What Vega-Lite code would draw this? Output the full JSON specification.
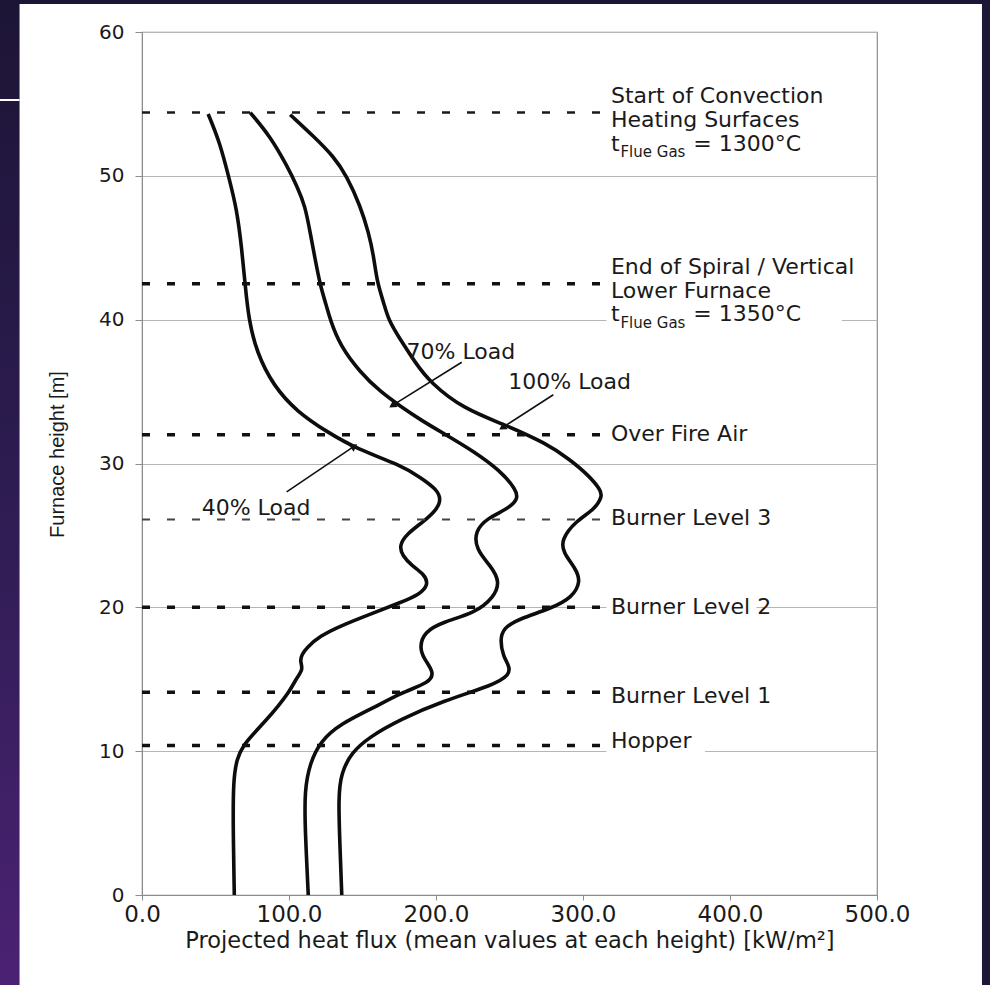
{
  "$schema": "https://vega.github.io/schema/vega-lite/v6.json",
  "width": 735,
  "height": 863,
  "autosize": {"type": "none"},
  "padding": {"left": 142, "top": 32, "right": 113, "bottom": 90},
  "background": "#ffffff",
  "config": {
    "view": {"stroke": "#8c8c8c", "strokeWidth": 1.2},
    "axis": {"domainColor": "#8c8c8c", "tickColor": "#8c8c8c", "labelColor": "#1a1a1a", "titleColor": "#1a1a1a", "labelFont": "DejaVu Sans", "titleFont": "Liberation Sans", "titleFontWeight": "normal"}
  },
  "datasets": {
    "curves": [
      {"load": "40% Load", "h": 54.3, "q": 45},
      {"load": "40% Load", "h": 52.3, "q": 53},
      {"load": "40% Load", "h": 50.0, "q": 58.8},
      {"load": "40% Load", "h": 47.7, "q": 64.5},
      {"load": "40% Load", "h": 44.9, "q": 67.9},
      {"load": "40% Load", "h": 42.4, "q": 70.2},
      {"load": "40% Load", "h": 40.0, "q": 72.6},
      {"load": "40% Load", "h": 37.7, "q": 78.1},
      {"load": "40% Load", "h": 35.4, "q": 89.4},
      {"load": "40% Load", "h": 33.6, "q": 105.4},
      {"load": "40% Load", "h": 32.2, "q": 125.8},
      {"load": "40% Load", "h": 31.0, "q": 146.3},
      {"load": "40% Load", "h": 29.9, "q": 175.7},
      {"load": "40% Load", "h": 29.0, "q": 190},
      {"load": "40% Load", "h": 28.2, "q": 200.5},
      {"load": "40% Load", "h": 27.5, "q": 203.5},
      {"load": "40% Load", "h": 26.8, "q": 200.5},
      {"load": "40% Load", "h": 26.0, "q": 192},
      {"load": "40% Load", "h": 25.1, "q": 180},
      {"load": "40% Load", "h": 24.3, "q": 175},
      {"load": "40% Load", "h": 23.6, "q": 177},
      {"load": "40% Load", "h": 22.9, "q": 183.5},
      {"load": "40% Load", "h": 22.3, "q": 192},
      {"load": "40% Load", "h": 21.6, "q": 195},
      {"load": "40% Load", "h": 20.9, "q": 189},
      {"load": "40% Load", "h": 20.3, "q": 175},
      {"load": "40% Load", "h": 19.6, "q": 157},
      {"load": "40% Load", "h": 18.7, "q": 134.7},
      {"load": "40% Load", "h": 18.0, "q": 121},
      {"load": "40% Load", "h": 17.2, "q": 112},
      {"load": "40% Load", "h": 16.7, "q": 108.6},
      {"load": "40% Load", "h": 16.25, "q": 107.5},
      {"load": "40% Load", "h": 15.7, "q": 109.7},
      {"load": "40% Load", "h": 15.1, "q": 105.2},
      {"load": "40% Load", "h": 14.2, "q": 100.7},
      {"load": "40% Load", "h": 13.0, "q": 91.6},
      {"load": "40% Load", "h": 12.2, "q": 84.8},
      {"load": "40% Load", "h": 11.2, "q": 75.7},
      {"load": "40% Load", "h": 10.4, "q": 68.9},
      {"load": "40% Load", "h": 9.5, "q": 64.5},
      {"load": "40% Load", "h": 7.9, "q": 62},
      {"load": "40% Load", "h": 4.5, "q": 62},
      {"load": "40% Load", "h": 0, "q": 62.8},
      {"load": "70% Load", "h": 54.4, "q": 73.6},
      {"load": "70% Load", "h": 52.75, "q": 87.2},
      {"load": "70% Load", "h": 50.7, "q": 98.6},
      {"load": "70% Load", "h": 49.3, "q": 105.4},
      {"load": "70% Load", "h": 47.9, "q": 111},
      {"load": "70% Load", "h": 46.05, "q": 114.4},
      {"load": "70% Load", "h": 44.2, "q": 117.8},
      {"load": "70% Load", "h": 42.35, "q": 121.3},
      {"load": "70% Load", "h": 40.96, "q": 125.5},
      {"load": "70% Load", "h": 40.0, "q": 128},
      {"load": "70% Load", "h": 38.2, "q": 134.7},
      {"load": "70% Load", "h": 36.35, "q": 148.3},
      {"load": "70% Load", "h": 35.0, "q": 162},
      {"load": "70% Load", "h": 34.0, "q": 175.5},
      {"load": "70% Load", "h": 33.0, "q": 190},
      {"load": "70% Load", "h": 32.1, "q": 205},
      {"load": "70% Load", "h": 30.8, "q": 226.4},
      {"load": "70% Load", "h": 29.5, "q": 243.6},
      {"load": "70% Load", "h": 28.2, "q": 254.5},
      {"load": "70% Load", "h": 27.5, "q": 256},
      {"load": "70% Load", "h": 26.8, "q": 248},
      {"load": "70% Load", "h": 26.2, "q": 235},
      {"load": "70% Load", "h": 25.3, "q": 226.4},
      {"load": "70% Load", "h": 24.0, "q": 227.3},
      {"load": "70% Load", "h": 22.9, "q": 237.1},
      {"load": "70% Load", "h": 21.8, "q": 243.6},
      {"load": "70% Load", "h": 20.7, "q": 239.4},
      {"load": "70% Load", "h": 19.6, "q": 226.4},
      {"load": "70% Load", "h": 19.0, "q": 205},
      {"load": "70% Load", "h": 18.3, "q": 192},
      {"load": "70% Load", "h": 17.2, "q": 188.7},
      {"load": "70% Load", "h": 16.4, "q": 192},
      {"load": "70% Load", "h": 15.5, "q": 198.5},
      {"load": "70% Load", "h": 14.8, "q": 196.4},
      {"load": "70% Load", "h": 14.05, "q": 176},
      {"load": "70% Load", "h": 13.0, "q": 157.3},
      {"load": "70% Load", "h": 11.9, "q": 135},
      {"load": "70% Load", "h": 10.7, "q": 121.5},
      {"load": "70% Load", "h": 9.2, "q": 114.3},
      {"load": "70% Load", "h": 7.24, "q": 110.5},
      {"load": "70% Load", "h": 4.47, "q": 111},
      {"load": "70% Load", "h": 0, "q": 113.1},
      {"load": "100% Load", "h": 54.25, "q": 100.8},
      {"load": "100% Load", "h": 52.75, "q": 116.7},
      {"load": "100% Load", "h": 51.36, "q": 130.3},
      {"load": "100% Load", "h": 49.97, "q": 139.4},
      {"load": "100% Load", "h": 47.9, "q": 148.5},
      {"load": "100% Load", "h": 46.05, "q": 154.2},
      {"load": "100% Load", "h": 44.43, "q": 157.6},
      {"load": "100% Load", "h": 42.6, "q": 159.9},
      {"load": "100% Load", "h": 41.2, "q": 164.4},
      {"load": "100% Load", "h": 40.0, "q": 167.5},
      {"load": "100% Load", "h": 38.65, "q": 175.5},
      {"load": "100% Load", "h": 37.0, "q": 186},
      {"load": "100% Load", "h": 35.65, "q": 195.9},
      {"load": "100% Load", "h": 33.8, "q": 218.6},
      {"load": "100% Load", "h": 32.65, "q": 248.1},
      {"load": "100% Load", "h": 31.38, "q": 275.3},
      {"load": "100% Load", "h": 30.3, "q": 290.7},
      {"load": "100% Load", "h": 29.2, "q": 303.6},
      {"load": "100% Load", "h": 28.15, "q": 312.2},
      {"load": "100% Load", "h": 27.7, "q": 313},
      {"load": "100% Load", "h": 26.8, "q": 307.9},
      {"load": "100% Load", "h": 26.0, "q": 295},
      {"load": "100% Load", "h": 24.7, "q": 285.2},
      {"load": "100% Load", "h": 23.8, "q": 286.5},
      {"load": "100% Load", "h": 22.7, "q": 295},
      {"load": "100% Load", "h": 21.8, "q": 298.5},
      {"load": "100% Load", "h": 20.7, "q": 292.9},
      {"load": "100% Load", "h": 19.9, "q": 277.9},
      {"load": "100% Load", "h": 19.2, "q": 256.4},
      {"load": "100% Load", "h": 18.55, "q": 245.7},
      {"load": "100% Load", "h": 17.7, "q": 243.6},
      {"load": "100% Load", "h": 16.6, "q": 245.7},
      {"load": "100% Load", "h": 15.9, "q": 250},
      {"load": "100% Load", "h": 15.3, "q": 250},
      {"load": "100% Load", "h": 14.6, "q": 239.3},
      {"load": "100% Load", "h": 13.5, "q": 205},
      {"load": "100% Load", "h": 12.2, "q": 175.5},
      {"load": "100% Load", "h": 10.94, "q": 154},
      {"load": "100% Load", "h": 9.9, "q": 142.6},
      {"load": "100% Load", "h": 8.5, "q": 135.5},
      {"load": "100% Load", "h": 6.78, "q": 133.5},
      {"load": "100% Load", "h": 3.31, "q": 134.7},
      {"load": "100% Load", "h": 0, "q": 135.9}
    ],
    "levels": [
      {"level": "Start of Convection Heating Surfaces", "h": 54.4},
      {"level": "End of Spiral / Vertical Lower Furnace", "h": 42.5},
      {"level": "Over Fire Air", "h": 32.0},
      {"level": "Burner Level 3", "h": 26.1},
      {"level": "Burner Level 2", "h": 20.0},
      {"level": "Burner Level 1", "h": 14.1},
      {"level": "Hopper", "h": 10.4}
    ],
    "texts": [
      {"text": "Start of Convection", "q": 319, "h": 55.55, "role": "main"},
      {"text": "Heating Surfaces", "q": 319, "h": 53.89, "role": "main"},
      {"text": "t", "q": 319, "h": 52.23, "role": "main"},
      {"text": "Flue Gas", "q": 325.5, "h": 51.65, "role": "sub"},
      {"text": "= 1300°C", "q": 375, "h": 52.23, "role": "main"},
      {"text": "End of Spiral / Vertical", "q": 319, "h": 43.64, "role": "main"},
      {"text": "Lower Furnace", "q": 319, "h": 41.98, "role": "main"},
      {"text": "t", "q": 319, "h": 40.37, "role": "main"},
      {"text": "Flue Gas", "q": 325.5, "h": 39.79, "role": "sub"},
      {"text": "= 1350°C", "q": 375, "h": 40.37, "role": "main"},
      {"text": "Over Fire Air", "q": 319, "h": 32.08, "role": "main"},
      {"text": "Burner Level 3", "q": 319, "h": 26.19, "role": "main"},
      {"text": "Burner Level 2", "q": 319, "h": 19.99, "role": "main"},
      {"text": "Burner Level 1", "q": 319, "h": 13.84, "role": "main"},
      {"text": "Hopper", "q": 319, "h": 10.7, "role": "main"},
      {"text": "70% Load", "q": 180, "h": 37.75, "role": "main"},
      {"text": "100% Load", "q": 249.2, "h": 35.65, "role": "main"},
      {"text": "40% Load", "q": 40.6, "h": 26.93, "role": "main"}
    ],
    "arrows": [
      {"load": "70% Load", "q": 217.5, "h": 37.04, "q2": 171, "h2": 34.08},
      {"load": "100% Load", "q": 279.8, "h": 34.78, "q2": 245.8, "h2": 32.54},
      {"load": "40% Load", "q": 98.4, "h": 28.03, "q2": 143.7, "h2": 31.15}
    ]
  },
  "layer": [
    {
      "data": {"name": "curves"},
      "mark": {"type": "line", "color": "#0d0d0d", "strokeWidth": 3.6, "interpolate": "basis"},
      "encoding": {
        "x": {"field": "q", "type": "quantitative", "scale": {"domain": [0, 500], "nice": false, "zero": false},
          "axis": {"title": "Projected heat flux (mean values at each height) [kW/m²]", "values": [0, 100, 200, 300, 400, 500], "format": ".1f", "grid": false, "tickSize": 5, "labelFontSize": 23, "labelFlush": false, "labelPadding": 3, "titleFont": "DejaVu Sans", "titleFontSize": 22.5, "titleBaseline": "middle", "titleY": 45}},
        "y": {"field": "h", "type": "quantitative", "scale": {"domain": [0, 60], "nice": false},
          "axis": {"title": "Furnace height [m]", "values": [0, 10, 20, 30, 40, 50, 60], "grid": true, "gridColor": "#b5b5b5", "gridWidth": 1, "tickSize": 7, "labelFontSize": 20, "labelPadding": 11, "titleFontSize": 20, "titleBaseline": "middle", "titleX": -85, "titleY": 422}},
        "detail": {"field": "load"},
        "order": {"field": "h", "type": "quantitative", "sort": "descending"}
      }
    },
    {
      "data": {"name": "levels"},
      "transform": [{"filter": {"field": "level", "oneOf": ["Start of Convection Heating Surfaces"]}}],
      "mark": {"type": "rule", "color": "#1a1a1a", "strokeWidth": 2.4, "strokeDash": [8, 17]},
      "encoding": {
        "y": {"field": "h", "type": "quantitative"},
        "x": {"datum": 0, "type": "quantitative"},
        "x2": {"datum": 312}
      }
    },
    {
      "data": {"name": "levels"},
      "transform": [{"filter": {"field": "level", "oneOf": ["Burner Level 3"]}}],
      "mark": {"type": "rule", "color": "#444444", "strokeWidth": 2, "strokeDash": [8, 17]},
      "encoding": {
        "y": {"field": "h", "type": "quantitative"},
        "x": {"datum": 0, "type": "quantitative"},
        "x2": {"datum": 312}
      }
    },
    {
      "data": {"name": "levels"},
      "transform": [{"filter": {"not": {"field": "level", "oneOf": ["Start of Convection Heating Surfaces", "Burner Level 3"]}}}],
      "mark": {"type": "rule", "color": "#111111", "strokeWidth": 3.5, "strokeDash": [8, 17]},
      "encoding": {
        "y": {"field": "h", "type": "quantitative"},
        "x": {"datum": 0, "type": "quantitative"},
        "x2": {"datum": 312}
      }
    },
    {
      "data": {"name": "arrows"},
      "mark": {"type": "rule", "color": "#111111", "strokeWidth": 1.6},
      "encoding": {
        "x": {"field": "q", "type": "quantitative"},
        "y": {"field": "h", "type": "quantitative"},
        "x2": {"field": "q2"},
        "y2": {"field": "h2"}
      }
    },
    {
      "data": {"name": "arrows"},
      "transform": [{"filter": "datum.load !== '40% Load'"}],
      "mark": {"type": "point", "shape": "triangle", "filled": true, "color": "#111111", "size": 70, "angle": 237, "opacity": 1},
      "encoding": {
        "x": {"field": "q2", "type": "quantitative"},
        "y": {"field": "h2", "type": "quantitative"}
      }
    },
    {
      "data": {"name": "arrows"},
      "transform": [{"filter": "datum.load === '40% Load'"}],
      "mark": {"type": "point", "shape": "triangle", "filled": true, "color": "#111111", "size": 70, "angle": 56, "opacity": 1},
      "encoding": {
        "x": {"field": "q2", "type": "quantitative"},
        "y": {"field": "h2", "type": "quantitative"}
      }
    },
    {
      "data": {"values": [{}]},
      "mark": {"type": "rect", "fill": "#ffffff"},
      "encoding": {
        "x": {"datum": 316, "type": "quantitative"},
        "x2": {"datum": 476},
        "y": {"datum": 39.55, "type": "quantitative"},
        "y2": {"datum": 40.9}
      }
    },
    {
      "data": {"values": [{}]},
      "mark": {"type": "rect", "fill": "#ffffff"},
      "encoding": {
        "x": {"datum": 316, "type": "quantitative"},
        "x2": {"datum": 383},
        "y": {"datum": 9.7, "type": "quantitative"},
        "y2": {"datum": 11.4}
      }
    },
    {
      "data": {"values": [{}]},
      "mark": {"type": "rect", "fill": "#ffffff"},
      "encoding": {
        "x": {"datum": 316, "type": "quantitative"},
        "x2": {"datum": 418},
        "y": {"datum": 19.5, "type": "quantitative"},
        "y2": {"datum": 20.5}
      }
    },
    {
      "data": {"name": "texts"},
      "transform": [{"filter": "datum.role === 'main'"}],
      "mark": {"type": "text", "align": "left", "baseline": "middle", "font": "DejaVu Sans", "fontSize": 22, "color": "#1a1a1a"},
      "encoding": {
        "x": {"field": "q", "type": "quantitative"},
        "y": {"field": "h", "type": "quantitative"},
        "text": {"field": "text"}
      }
    },
    {
      "data": {"name": "texts"},
      "transform": [{"filter": "datum.role === 'sub'"}],
      "mark": {"type": "text", "align": "left", "baseline": "middle", "font": "DejaVu Sans", "fontSize": 15, "color": "#1a1a1a"},
      "encoding": {
        "x": {"field": "q", "type": "quantitative"},
        "y": {"field": "h", "type": "quantitative"},
        "text": {"field": "text"}
      }
    },
    {
      "data": {"values": [{}]},
      "mark": {"type": "rect", "fill": {"gradient": "linear", "x1": 0, "y1": 0, "x2": 0, "y2": 1, "stops": [{"offset": 0, "color": "#1b1433"}, {"offset": 0.5, "color": "#2c1c50"}, {"offset": 1, "color": "#4c2274"}]}},
      "encoding": {
        "x": {"datum": -120, "type": "quantitative"},
        "x2": {"datum": -83.3},
        "y": {"datum": 66, "type": "quantitative"},
        "y2": {"datum": -7}
      }
    },
    {
      "data": {"values": [{}]},
      "mark": {"type": "rect", "fill": "#1e1838"},
      "encoding": {
        "x": {"datum": 571.4, "type": "quantitative"},
        "x2": {"datum": 620},
        "y": {"datum": 66, "type": "quantitative"},
        "y2": {"datum": -7}
      }
    },
    {
      "data": {"values": [{}]},
      "mark": {"type": "rect", "fill": "#1c1535"},
      "encoding": {
        "x": {"datum": -120, "type": "quantitative"},
        "x2": {"datum": 620},
        "y": {"datum": 66, "type": "quantitative"},
        "y2": {"datum": 61.95}
      }
    },
    {
      "data": {"values": [{}]},
      "mark": {"type": "rule", "color": "#ffffff", "strokeWidth": 2},
      "encoding": {
        "x": {"datum": -120, "type": "quantitative"},
        "x2": {"datum": -83.3},
        "y": {"datum": 55.27, "type": "quantitative"}
      }
    }
  ]
}
